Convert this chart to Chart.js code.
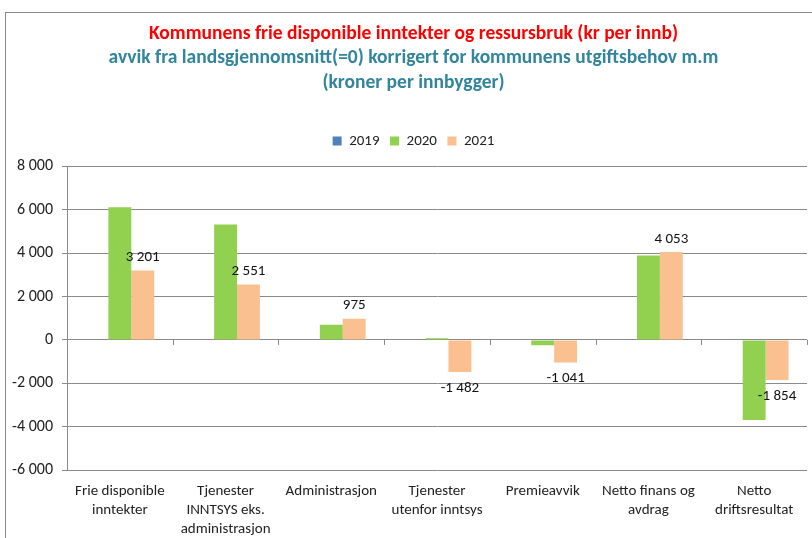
<!DOCTYPE html>
<html lang="no">
<head>
    <meta charset="UTF-8">
    <title>Kommunens frie disponible inntekter og ressursbruk</title>
    <script src="https://cdn.jsdelivr.net/npm/chart.js"></script>
    <style>
        body {
            margin: 0;
            background: #fff;
            font-family: Carlito, Calibri, Lato, sans-serif;
        }
        .frame {
            position: absolute;
            left: 5px;
            top: 12px;
            width: 900px;
            height: 600px;
            border: 1px solid #8a8a8a;
        }
        canvas {
            position: absolute;
            left: 0;
            top: 0;
        }
    </style>
</head>
<body>
    <div class="frame"></div>
    <canvas id="chart" width="812" height="538"></canvas>

    <script>
        const categories = [
            ['Frie disponible', 'inntekter'],
            ['Tjenester', 'INNTSYS eks.', 'administrasjon'],
            'Administrasjon',
            ['Tjenester', 'utenfor inntsys'],
            'Premieavvik',
            ['Netto finans og', 'avdrag'],
            ['Netto', 'driftsresultat']
        ];
        const years = ['2019', '2020', '2021'];
        const values2019 = [null, null, null, null, null, null, null];
        const values2020 = [6120, 5320, 700, 80, -250, 3890, -3690];
        const values2021 = [3201, 2551, 975, -1482, -1041, 4053, -1854];
        const yTicks = [-6000, -4000, -2000, 0, 2000, 4000, 6000, 8000];

        const fontFamily = 'Carlito, Calibri, Lato, sans-serif';

        function formatNumber(v) {
            const s = Math.abs(v).toString().replace(/\B(?=(\d{3})+(?!\d))/g, ' ');
            return (v < 0 ? '-' : '') + s;
        }

        // a bit of extra room under the legend
        const legendGap = {
            id: 'legendGap',
            beforeInit(chart) {
                const fit = chart.legend.fit;
                chart.legend.fit = function () {
                    fit.call(this);
                    this.height += 8;
                };
            }
        };

        // the original frame is wider than the picture, so titles sit a bit right of centre
        const headerShift = {
            id: 'headerShift',
            afterLayout(chart) {
                const TitleBox = chart.titleBlock.constructor;
                chart.boxes.forEach(b => {
                    if (b instanceof TitleBox || b === chart.legend) {
                        b.left += 10;
                        b.right += 10;
                    }
                });
            }
        };

        // value labels for 2021 + small tick marks on the zero line
        const extras = {
            id: 'extras',
            afterDatasetsDraw(chart) {
                const ctx = chart.ctx;
                const x = chart.scales.x;
                const y = chart.scales.y;
                const zero = y.getPixelForValue(0);

                ctx.save();
                ctx.strokeStyle = '#8a8a8a';
                ctx.lineWidth = 1;
                ctx.beginPath();
                for (let i = 0; i <= categories.length; i++) {
                    const px = Math.round(x.left + (x.right - x.left) * i / categories.length) + 0.5;
                    ctx.moveTo(px, zero);
                    ctx.lineTo(px, zero + 5);
                }
                ctx.stroke();

                const meta = chart.getDatasetMeta(2);
                ctx.fillStyle = '#111';
                ctx.font = '15px ' + fontFamily;
                ctx.textAlign = 'center';
                ctx.textBaseline = 'middle';
                meta.data.forEach((bar, i) => {
                    const v = values2021[i];
                    const ty = v >= 0 ? bar.y - 13 : bar.y + 16;
                    ctx.fillText(formatNumber(v), bar.x, ty);
                });
                ctx.restore();
            }
        };

        const ctx = document.getElementById('chart').getContext('2d');
        const chart = new Chart(ctx, {
            type: 'bar',
            data: {
                labels: categories,
                datasets: [
                    { label: years[0], data: values2019, backgroundColor: '#4F81BD' },
                    { label: years[1], data: values2020, backgroundColor: '#92D050' },
                    { label: years[2], data: values2021, backgroundColor: '#FAC090' }
                ]
            },
            options: {
                responsive: false,
                animation: false,
                categoryPercentage: 0.65,
                barPercentage: 1.0,
                layout: {
                    padding: { top: 0, right: 5, bottom: 0, left: 0 }
                },
                plugins: {
                    title: {
                        display: true,
                        text: 'Kommunens frie disponible inntekter og ressursbruk (kr per innb)',
                        color: '#FF0000',
                        font: { family: fontFamily, size: 19.5, weight: 'bold', lineHeight: 1.2 },
                        padding: { top: 22, bottom: 0 }
                    },
                    subtitle: {
                        display: true,
                        text: ['avvik fra landsgjennomsnitt(=0) korrigert for kommunens utgiftsbehov m.m',
                               '(kroner per innbygger)'],
                        color: '#31859C',
                        font: { family: fontFamily, size: 19.5, weight: 'bold', lineHeight: 1.282 },
                        padding: { top: 0, bottom: 27.5 }
                    },
                    legend: {
                        position: 'top',
                        labels: {
                            color: '#222',
                            boxWidth: 9,
                            boxHeight: 9,
                            padding: 10.5,
                            font: { family: fontFamily, size: 15 }
                        }
                    },
                    tooltip: { enabled: false }
                },
                scales: {
                    x: {
                        afterFit(axis) {
                            axis.height = 68;
                        },
                        grid: { display: false, drawTicks: false },
                        border: { display: false },
                        ticks: {
                            color: '#222',
                            padding: 11.5,
                            maxRotation: 0,
                            autoSkip: false,
                            font: { family: fontFamily, size: 15, lineHeight: 1.27 }
                        }
                    },
                    y: {
                        min: -6000,
                        max: 8000,
                        afterBuildTicks(axis) {
                            axis.ticks = yTicks.map(v => ({ value: v }));
                        },
                        afterFit(axis) {
                            axis.width = 67;
                        },
                        grid: { color: '#8a8a8a', tickLength: 5 },
                        border: { color: '#8a8a8a' },
                        ticks: {
                            color: '#222',
                            padding: 9,
                            font: { family: fontFamily, size: 16 },
                            callback: v => formatNumber(v)
                        }
                    }
                }
            },
            plugins: [legendGap, headerShift, extras]
        });
    </script>
</body>
</html>
